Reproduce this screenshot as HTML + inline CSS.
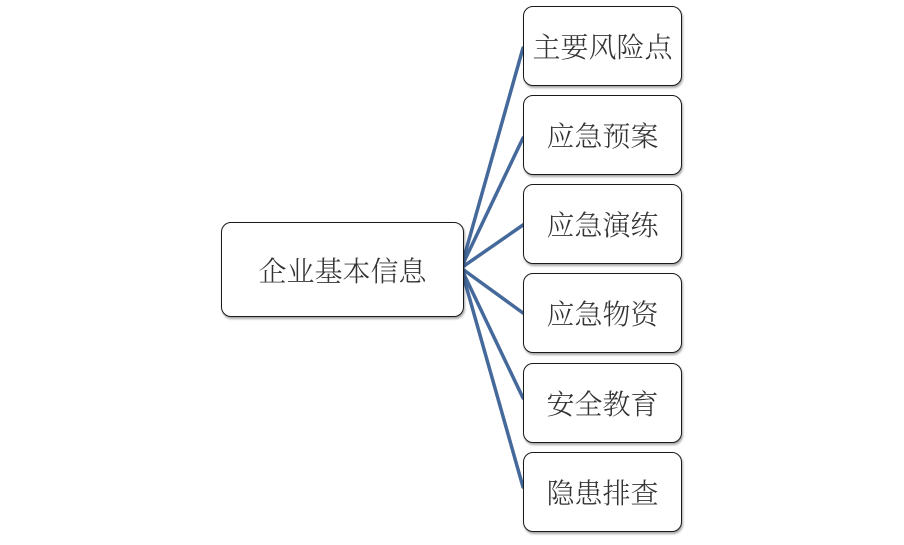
<!DOCTYPE html>
<html><head><meta charset="utf-8"><style>
body{margin:0;width:904px;height:545px;background:#fff;overflow:hidden;position:relative;font-family:"Liberation Serif","Noto Serif CJK SC",serif;}
.b{position:absolute;box-sizing:border-box;border:1.5px solid #1a1a1a;border-radius:10px;background:#fff;box-shadow:1px 2px 2px rgba(0,0,0,0.35);display:flex;align-items:center;justify-content:center;font-size:28px;color:#333;font-weight:300;}
svg{position:absolute;left:0;top:0}
</style></head><body>
<svg width="904" height="545"><g stroke="#45699a" stroke-width="3.5" fill="none" stroke-linecap="round">
<line x1="461" y1="268" x2="523" y2="48"/>
<line x1="461" y1="268" x2="523" y2="138"/>
<line x1="461" y1="268" x2="523" y2="225"/>
<line x1="461" y1="268" x2="523" y2="313"/>
<line x1="461" y1="268" x2="523" y2="398"/>
<line x1="461" y1="268" x2="523" y2="487"/>
</g></svg>
<div class="b" style="left:221px;top:222px;width:243px;height:95px;">企业基本信息</div>
<div class="b" style="left:523px;top:6px;width:159px;height:80px;">主要风险点</div>
<div class="b" style="left:523px;top:95px;width:159px;height:80px;">应急预案</div>
<div class="b" style="left:523px;top:184px;width:159px;height:80px;">应急演练</div>
<div class="b" style="left:523px;top:273px;width:159px;height:80px;">应急物资</div>
<div class="b" style="left:523px;top:363px;width:159px;height:80px;">安全教育</div>
<div class="b" style="left:523px;top:452px;width:159px;height:80px;">隐患排查</div>
</body></html>
